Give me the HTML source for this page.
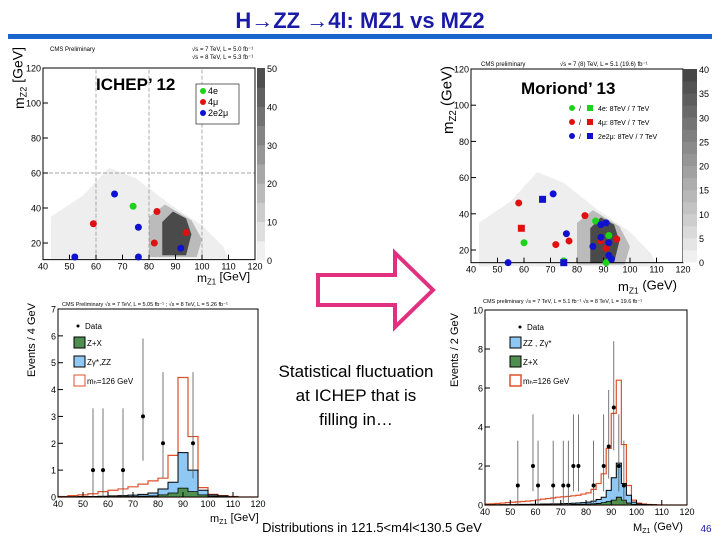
<!DOCTYPE html>
<html><head><meta charset="utf-8"><style>
body{margin:0;background:#fff;}
svg{display:block;font-family:"Liberation Sans",sans-serif;}
</style></head><body>
<svg id="s" width="720" height="540" viewBox="0 0 720 540">
<text x="360" y="28" text-anchor="middle" font-size="22" font-weight="bold" fill="#1a1aa8">H→ZZ →4l: MZ1 vs MZ2</text>
<rect x="8" y="34" width="704" height="5" fill="#1a66cc"/>
<g id="p1"></g>
<g id="p2"></g>
<g id="p3"></g>
<g id="p4"></g>
<path d="M318,275 L395,275 L395,253 L433,290 L395,327 L395,305 L318,305 Z" fill="none" stroke="#e0307f" stroke-width="4"/>
<text x="356" y="377" text-anchor="middle" font-size="17">Statistical fluctuation</text>
<text x="356" y="401" text-anchor="middle" font-size="17">at ICHEP that is</text>
<text x="356" y="425" text-anchor="middle" font-size="17">filling in…</text>
<text x="372" y="532" text-anchor="middle" font-size="13">Distributions in 121.5&lt;m4l&lt;130.5 GeV</text>
<text x="706" y="532" text-anchor="middle" font-size="10" fill="#1a1aa8">46</text>
</svg>
<script>
const NS="http://www.w3.org/2000/svg";
// ---- data ----
const p1Green=[[74,41]];
const p1Red=[[59,31],[83,38],[82,20],[94,26]];
const p1Blue=[[67,48],[76,29],[52,12],[76,12],[92,17]];
const p2GreenC=[[87,36],[92,28],[60,24],[75,14],[91,13]];
const p2RedC=[[58,46],[83,39],[72,23],[77,25],[89,25],[91,21],[95,26]];
const p2RedS=[[59,32]];
const p2BlueC=[[71,51],[76,29],[54,13],[89,34],[91,35],[86,22],[89,27],[92,24],[92,17],[93,15]];
const p2BlueS=[[67,48],[75,13]];
const h3Edges=[40,44,48,52,56,60,64,68,72,76,80,84,88,92,96,100,104,108,112,116,120];
const h3Sig=[0.02,0.05,0.08,0.12,0.2,0.25,0.3,0.38,0.48,0.6,0.7,1.55,4.45,2.25,0.35,0.1,0.05,0.02,0,0];
const h3ZZ=[0.01,0.01,0.02,0.02,0.03,0.04,0.05,0.07,0.1,0.15,0.3,0.55,1.65,1.0,0.25,0.08,0.04,0.01,0,0];
const h3ZX=[0,0,0,0,0.01,0.01,0.02,0.02,0.03,0.04,0.08,0.15,0.33,0.2,0.08,0.03,0.01,0,0,0];
const d3X=[54,58,66,74,82,94];
const d3Y=[1,1,1,3,2,2];
const d3Lo=[0,0,0,1.35,0.7,0.7];
const d3Hi=[3.3,3.3,3.3,5.9,4.65,4.65];
const h4Edges=[40,42,44,46,48,50,52,54,56,58,60,62,64,66,68,70,72,74,76,78,80,82,84,86,88,90,92,94,96,98,100,102,104,106,108,110,112,114,116,118,120];
const h4Sig=[0.05,0.06,0.08,0.1,0.12,0.14,0.16,0.18,0.2,0.22,0.26,0.3,0.33,0.36,0.4,0.42,0.44,0.47,0.5,0.56,0.62,0.8,1.1,1.6,2.9,4.7,6.4,3.1,1.0,0.25,0.1,0.05,0.03,0.02,0.01,0,0,0,0,0];
const h4ZZ=[0.01,0.01,0.01,0.02,0.02,0.02,0.03,0.03,0.03,0.04,0.04,0.05,0.05,0.06,0.06,0.07,0.08,0.09,0.1,0.12,0.15,0.2,0.28,0.4,0.75,1.4,2.15,1.1,0.5,0.15,0.06,0.03,0.02,0.01,0,0,0,0,0,0];
const h4ZX=[0,0,0,0,0,0,0.01,0.01,0.01,0.01,0.01,0.01,0.01,0.02,0.02,0.02,0.02,0.03,0.03,0.04,0.05,0.06,0.08,0.12,0.18,0.25,0.4,0.25,0.1,0.04,0.02,0.01,0,0,0,0,0,0,0,0];
const d4X=[53,59,61,67,71,73,75,77,83,87,89,91,93,95];
const d4Y=[1,2,1,1,1,1,2,2,1,2,3,5,2,1];
const d4Hi=[3.3,4.65,3.3,3.3,3.3,3.3,4.65,4.65,3.3,4.65,5.9,8.4,4.65,3.3];
const d4Lo=[0,0.7,0,0,0,0,0.7,0.7,0,0.7,1.35,2.8,0.7,0];

function mk(parent,tag,attrs,name,text){const e=document.createElementNS(NS,tag);for(const k in attrs)e.setAttribute(k,attrs[k]);


if(text!==undefined)e.textContent=text;parent.appendChild(e);return e;}
function sub(parent,attrs,name,main,s,rest){const t=mk(parent,'text',attrs,name);
 const a=document.createElementNS(NS,'tspan');a.textContent=main;t.appendChild(a);
 const b=document.createElementNS(NS,'tspan');b.setAttribute('font-size','0.65em');b.setAttribute('dy','0.3em');b.textContent=s;t.appendChild(b);
 const c=document.createElementNS(NS,'tspan');c.setAttribute('dy','-0.3em');c.textContent=rest;t.appendChild(c);return t;}
function scale(d0,d1,r0,r1){return v=>r0+(v-d0)/(d1-d0)*(r1-r0);}

function frame(g,X,Y,xt,yt,x0,x1,y0,y1,fs){
 mk(g,'rect',{x:X(x0),y:Y(y1),width:X(x1)-X(x0),height:Y(y0)-Y(y1),fill:'none',stroke:'#000','stroke-width':1},'plot-frame');
 xt.forEach(v=>{mk(g,'line',{x1:X(v),x2:X(v),y1:Y(y0),y2:Y(y0)-5,stroke:'#000'},'x-tick');
  mk(g,'text',{x:X(v),y:Y(y0)+fs+1,'font-size':fs,'text-anchor':'middle'},'x-tick-label',v);});
 yt.forEach(v=>{mk(g,'line',{x1:X(x0),x2:X(x0)+5,y1:Y(v),y2:Y(v),stroke:'#000'},'y-tick');
  mk(g,'text',{x:X(x0)-2,y:Y(v)+fs/2-1,'font-size':fs,'text-anchor':'end'},'y-tick-label',v);});
}
function density(g,X,Y){
 mk(g,'polygon',{points:[[43,13],[43,35],[55,47],[65,63],[75,57],[88,42],[100,30],[108,18],[110,11],[43,11]].map(p=>X(p[0])+','+Y(p[1])).join(' '),fill:'#eeeeee'},'density-light');
 mk(g,'polygon',{points:[[80,12],[80,35],[86,42],[96,33],[100,22],[98,12]].map(p=>X(p[0])+','+Y(p[1])).join(' '),fill:'#bbbbbb'},'density-mid');
 mk(g,'polygon',{points:[[85,13],[85,32],[89,38],[94,34],[96,25],[94,13]].map(p=>X(p[0])+','+Y(p[1])).join(' '),fill:'#4a4a4a'},'density-peak');
}
function colorbar(g,x,w,yt,yb,labels){
 const n=labels.length-1;
 for(let i=0;i<n*2;i++){const c=Math.round(240-i*(180/(n*2)));
  mk(g,'rect',{x:x,y:yb-(i+1)*(yb-yt)/(n*2),width:w,height:(yb-yt)/(n*2)+0.5,fill:`rgb(${c},${c},${c})`},'colorbar-band');}
 labels.forEach((l,i)=>mk(g,'text',{x:x+w+2,y:yb-i*(yb-yt)/n+4,'font-size':9},'colorbar-label',l));
}
function dots(g,X,Y,arr,col,sq,name){arr.forEach(p=>{ if(sq) mk(g,'rect',{x:X(p[0])-3.5,y:Y(p[1])-3.5,width:7,height:7,fill:col},name);
 else mk(g,'circle',{cx:X(p[0]),cy:Y(p[1]),r:3.5,fill:col},name);});}

// panel 1
(function(){const g=document.getElementById('p1');const X=scale(40,120,43,255),Y=scale(20,120,243,68);
 mk(g,'text',{x:50,y:51,'font-size':6},'cms-label','CMS Preliminary');
 mk(g,'text',{x:192,y:51,'font-size':6},'energy-label-7tev','√s = 7 TeV, L = 5.0 fb⁻¹');
 mk(g,'text',{x:192,y:59,'font-size':6},'energy-label-8tev','√s = 8 TeV, L = 5.3 fb⁻¹');
 density(g,X,Y);
 [60,80,100].forEach(v=>mk(g,'line',{x1:X(v),x2:X(v),y1:Y(10.5),y2:Y(120),stroke:'#888','stroke-dasharray':'4,2','stroke-width':0.7},'grid-line'));
 mk(g,'line',{x1:X(40),x2:X(120),y1:Y(60),y2:Y(60),stroke:'#888','stroke-dasharray':'4,2','stroke-width':0.7},'grid-line');
 frame(g,X,Y,[40,50,60,70,80,90,100,110,120],[20,40,60,80,100,120],40,120,10.5,120,9);
 colorbar(g,257,8,68,260,[0,10,20,30,40,50]);
 mk(g,'rect',{x:196,y:84,width:43,height:40,fill:'#fff',stroke:'#000','stroke-width':0.6},'legend-box');
 [['#1bd31b','4e'],['#e01010','4μ'],['#1010d0','2e2μ']].forEach((l,i)=>{mk(g,'circle',{cx:203,cy:91+i*11,r:3,fill:l[0]},'legend-marker');mk(g,'text',{x:208,y:94+i*11,'font-size':9},'legend-entry',l[1]);});
 dots(g,X,Y,p1Green,'#1bd31b',false,'point-4e');dots(g,X,Y,p1Red,'#e01010',false,'point-4mu');dots(g,X,Y,p1Blue,'#1010d0',false,'point-2e2mu');
 mk(g,'text',{x:96,y:90,'font-size':17,'font-weight':'bold'},'panel-label','ICHEP’ 12');
 sub(g,{x:197,y:282,'font-size':12},'x-axis-title','m','Z1',' [GeV]');
 sub(g,{x:0,y:0,'font-size':14,transform:'translate(24,78) rotate(-90)','text-anchor':'middle'},'y-axis-title','m','Z2',' [GeV]');
})();
// panel 2
(function(){const g=document.getElementById('p2');const X=scale(40,120,471,683),Y=scale(20,120,250,69);
 mk(g,'text',{x:481,y:66,'font-size':6},'cms-label','CMS preliminary');
 mk(g,'text',{x:560,y:66,'font-size':6},'energy-label','√s = 7 (8) TeV, L = 5.1 (19.6) fb⁻¹');
 density(g,X,Y);
 frame(g,X,Y,[40,50,60,70,80,90,100,110,120],[20,40,60,80,100,120],40,120,13,120,9);
 colorbar(g,683,14,69,262,[0,5,10,15,20,25,30,35,40]);
 [['#1bd31b','4e: 8TeV / 7 TeV'],['#e01010','4μ: 8TeV / 7 TeV'],['#1010d0','2e2μ: 8TeV / 7 TeV']].forEach((l,i)=>{
  mk(g,'circle',{cx:572,cy:108+i*14,r:3,fill:l[0]},'legend-marker-circle');mk(g,'text',{x:579,y:111+i*14,'font-size':7},'legend-slash','/');
  mk(g,'rect',{x:587,y:105+i*14,width:6,height:6,fill:l[0]},'legend-marker-square');mk(g,'text',{x:598,y:111+i*14,'font-size':7},'legend-entry',l[1]);});
 dots(g,X,Y,p2GreenC,'#1bd31b',false,'point-4e');dots(g,X,Y,p2RedC,'#e01010',false,'point-4mu');dots(g,X,Y,p2RedS,'#e01010',true,'point-4mu-7tev');
 dots(g,X,Y,p2BlueC,'#1010d0',false,'point-2e2mu');dots(g,X,Y,p2BlueS,'#1010d0',true,'point-2e2mu-7tev');
 mk(g,'text',{x:521,y:94,'font-size':17,'font-weight':'bold'},'panel-label','Moriond’ 13');
 sub(g,{x:618,y:291,'font-size':13},'x-axis-title','m','Z1',' (GeV)');
 sub(g,{x:0,y:0,'font-size':15,transform:'translate(453,100) rotate(-90)','text-anchor':'middle'},'y-axis-title','m','Z2',' (GeV)');
})();
function hist(g,X,Y,edges,vals,fill,stroke,sw,name){
 let d='M'+X(edges[0])+','+Y(0);
 vals.forEach((v,i)=>{d+=' L'+X(edges[i])+','+Y(v)+' L'+X(edges[i+1])+','+Y(v);});
 d+=' L'+X(edges[edges.length-1])+','+Y(0)+' Z';
 mk(g,'path',{d:d,fill:fill,stroke:stroke,'stroke-width':sw},name);
}
function data(g,X,Y,xs,ys,lo,hi){xs.forEach((x,i)=>{mk(g,'line',{x1:X(x),x2:X(x),y1:Y(lo[i]),y2:Y(hi[i]),stroke:'#555','stroke-width':0.8},'data-error-bar');
 mk(g,'circle',{cx:X(x),cy:Y(ys[i]),r:2,fill:'#000'},'data-point');});}
// panel 3
(function(){const g=document.getElementById('p3');const X=scale(40,120,58,258),Y=scale(0,7,497,309);
 mk(g,'text',{x:62,y:306,'font-size':5.5},'cms-label','CMS Preliminary   √s = 7 TeV, L = 5.05 fb⁻¹ ; √s = 8 TeV, L = 5.26 fb⁻¹');
 hist(g,X,Y,h3Edges,h3Sig,'#fff','#e0502a',1.2,'higgs-signal-histogram');
 hist(g,X,Y,h3Edges,h3ZZ,'#8ec8f5','#000',1,'zz-background-histogram');
 hist(g,X,Y,h3Edges,h3ZX,'#4f8f4f','#000',0.8,'zx-background-histogram');
 data(g,X,Y,d3X,d3Y,d3Lo,d3Hi);
 frame(g,X,Y,[40,50,60,70,80,90,100,110,120],[0,1,2,3,4,5,6,7],40,120,0,7,9);
 mk(g,'circle',{cx:78,cy:326,r:1.5,fill:'#000'},'legend-data-marker');mk(g,'text',{x:85,y:329,'font-size':8},'legend-data','Data');
 mk(g,'rect',{x:74,y:337,width:11,height:11,fill:'#4f8f4f',stroke:'#000'},'legend-zx-swatch');mk(g,'text',{x:87,y:346,'font-size':8},'legend-zx','Z+X');
 mk(g,'rect',{x:74,y:356,width:11,height:11,fill:'#8ec8f5',stroke:'#000'},'legend-zz-swatch');mk(g,'text',{x:87,y:365,'font-size':8},'legend-zz','Zγ*,ZZ');
 mk(g,'rect',{x:74,y:375,width:11,height:11,fill:'#fff',stroke:'#e0502a'},'legend-higgs-swatch');mk(g,'text',{x:87,y:384,'font-size':8},'legend-higgs','m\u2095=126 GeV');
 sub(g,{x:210,y:522,'font-size':11},'x-axis-title','m','Z1',' [GeV]');
 mk(g,'text',{x:0,y:0,'font-size':11,transform:'translate(35,340) rotate(-90)','text-anchor':'middle'},'y-axis-title','Events / 4 GeV');
})();
// panel 4
(function(){const g=document.getElementById('p4');const X=scale(40,120,485,687),Y=scale(0,10,505,310);
 mk(g,'text',{x:483,y:303,'font-size':5.5},'cms-label','CMS preliminary   √s = 7 TeV, L = 5.1 fb⁻¹  √s = 8 TeV, L = 19.6 fb⁻¹');
 hist(g,X,Y,h4Edges,h4Sig,'#fff','#e0502a',1.2,'higgs-signal-histogram');
 hist(g,X,Y,h4Edges,h4ZZ,'#8ec8f5','#000',1,'zz-background-histogram');
 hist(g,X,Y,h4Edges,h4ZX,'#4f8f4f','#000',0.8,'zx-background-histogram');
 data(g,X,Y,d4X,d4Y,d4Lo,d4Hi);
 frame(g,X,Y,[40,50,60,70,80,90,100,110,120],[0,2,4,6,8,10],40,120,0,10,9);
 mk(g,'circle',{cx:520,cy:327,r:1.5,fill:'#000'},'legend-data-marker');mk(g,'text',{x:527,y:330,'font-size':8},'legend-data','Data');
 mk(g,'rect',{x:510,y:337,width:11,height:11,fill:'#8ec8f5',stroke:'#000'},'legend-zz-swatch');mk(g,'text',{x:523,y:346,'font-size':8},'legend-zz','ZZ , Zγ*');
 mk(g,'rect',{x:510,y:356,width:11,height:11,fill:'#4f8f4f',stroke:'#000'},'legend-zx-swatch');mk(g,'text',{x:523,y:365,'font-size':8},'legend-zx','Z+X');
 mk(g,'rect',{x:510,y:375,width:11,height:11,fill:'#fff',stroke:'#e0502a','stroke-width':1.5},'legend-higgs-swatch');mk(g,'text',{x:523,y:384,'font-size':8},'legend-higgs','m\u2095=126 GeV');
 sub(g,{x:633,y:531,'font-size':11},'x-axis-title','M','Z1',' (GeV)');
 mk(g,'text',{x:0,y:0,'font-size':11,transform:'translate(458,350) rotate(-90)','text-anchor':'middle'},'y-axis-title','Events / 2 GeV');
})();
</script>
</body></html>
